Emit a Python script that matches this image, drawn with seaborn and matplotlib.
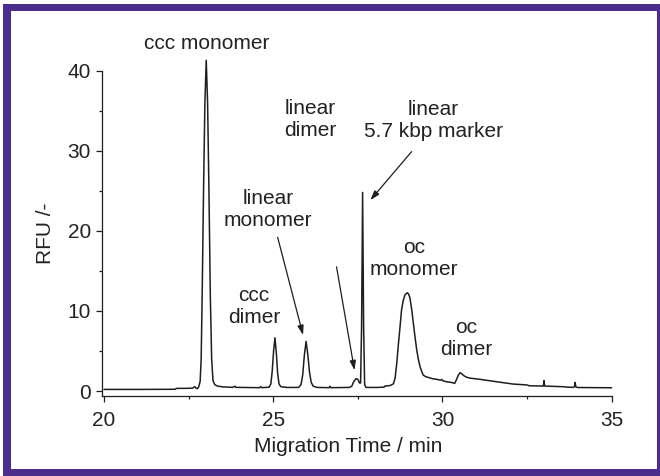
import matplotlib
matplotlib.use("Agg")
import matplotlib.pyplot as plt
from matplotlib.patches import Rectangle
from matplotlib.ticker import MultipleLocator
import seaborn as sns
import pandas as pd

# Electropherogram trace: migration time (min) and fluorescence signal (RFU)
time_min = [
    20.00, 21.00, 22.10, 22.14, 22.50, 22.62, 22.68, 22.72, 22.76, 22.80,
    22.84, 22.87, 22.90, 22.94, 22.98, 23.02, 23.06, 23.10, 23.14, 23.18,
    23.22, 23.27, 23.35, 23.50, 23.80, 23.87, 23.89, 24.20, 24.60, 24.63,
    24.66, 24.88, 24.93, 24.97, 25.01, 25.05, 25.09, 25.13, 25.17, 25.22,
    25.40, 25.75, 25.82, 25.87, 25.92, 25.97, 26.02, 26.07, 26.12, 26.18,
    26.30, 26.65, 26.68, 26.70, 27.25, 27.32, 27.38, 27.45, 27.50, 27.55,
    27.58, 27.61, 27.64, 27.67, 27.70, 27.74, 28.10, 28.28, 28.30, 28.45,
    28.55, 28.60, 28.65, 28.70, 28.75, 28.79, 28.84, 28.89, 28.96, 29.00,
    29.04, 29.09, 29.14, 29.19, 29.24, 29.29, 29.34, 29.39, 29.43, 29.50,
    29.58, 29.70, 29.83, 29.95, 29.98, 30.01, 30.12, 30.25, 30.32, 30.36,
    30.40, 30.47, 30.52, 30.57, 30.62, 30.70, 30.80, 31.11, 31.60, 32.09,
    32.50, 32.56, 32.98, 33.00, 33.02, 33.57, 33.70, 33.86, 33.90, 33.92,
    33.94, 34.00, 34.95, 35.00,
]
rfu = [
    0.20, 0.20, 0.22, 0.33, 0.34, 0.36, 0.55, 0.35, 0.30, 0.55,
    1.20, 4.00, 12.0, 25.0, 36.0, 41.3, 36.0, 25.0, 12.0, 4.00,
    1.30, 0.80, 0.62, 0.52, 0.46, 0.60, 0.46, 0.44, 0.42, 0.55,
    0.42, 0.48, 0.90, 2.50, 5.00, 6.65, 4.80, 2.20, 0.90, 0.55,
    0.45, 0.45, 0.80, 2.00, 4.50, 6.20, 4.60, 2.40, 1.10, 0.60,
    0.45, 0.42, 0.60, 0.42, 0.45, 0.60, 1.20, 1.55, 1.45, 1.00,
    1.00, 8.00, 24.8, 8.00, 0.80, 0.45, 0.45, 0.50, 0.62, 0.68,
    0.90, 1.60, 3.50, 5.95, 8.20, 10.1, 11.3, 12.0, 12.27, 12.1,
    11.6, 10.2, 8.45, 6.70, 5.10, 3.90, 3.00, 2.40, 2.00, 1.80,
    1.70, 1.55, 1.46, 1.35, 1.45, 1.28, 1.16, 1.08, 1.02, 0.95,
    1.30, 2.00, 2.29, 2.15, 1.95, 1.75, 1.62, 1.46, 1.16, 0.87,
    0.76, 0.66, 0.62, 1.30, 0.62, 0.54, 0.48, 0.46, 0.55, 1.08,
    0.50, 0.44, 0.41, 0.41,
]

# Peak labels: text, anchor time, anchor RFU
label_texts = ["ccc monomer", "linear\ndimer", "linear\n5.7 kbp marker",
               "linear\nmonomer", "ccc\ndimer", "oc\nmonomer", "oc\ndimer"]
label_t = [23.02, 26.08, 29.72, 24.845, 24.43, 29.16, 30.71]
label_v = [43.41, 33.9, 33.72, 22.68, 10.6, 16.55, 6.56]

# Arrows: (start time, start RFU) -> (end time, end RFU)
arrow_start_t = [25.13, 26.87, 29.09]
arrow_start_v = [19.19, 15.5, 29.9]
arrow_end_t = [25.88, 27.40, 27.87]
arrow_end_v = [7.0, 2.6, 23.85]

x_ticks = [20, 25, 30, 35]
y_ticks = [0, 10, 20, 30, 40]

sns.set_style("ticks")
plt.rcParams["font.family"] = ["Liberation Sans", "DejaVu Sans"]
plt.rcParams["font.size"] = 15

INK = "#1e1e1e"
PURPLE = "#4b2d8c"

fig = plt.figure(figsize=(6.6, 4.76), dpi=100)
fig.patch.set_facecolor("white")
ax = fig.add_axes([102 / 660, 80 / 476, 509.7 / 660, 325.3 / 476])

df = pd.DataFrame({"t": time_min, "rfu": rfu})
sns.lineplot(data=df, x="t", y="rfu", ax=ax, color=INK, lw=1.1,
             sort=False, estimator=None)
ax.lines[0].set_clip_on(False)

ax.set_xlim(19.94, 35)
ax.set_ylim(-0.62, 40)
ax.set_xticks(x_ticks)
ax.set_yticks(y_ticks)
ax.xaxis.set_minor_locator(MultipleLocator(2.5))
ax.yaxis.set_minor_locator(MultipleLocator(5))

for side in ("top", "right"):
    ax.spines[side].set_visible(False)
for side in ("left", "bottom"):
    ax.spines[side].set_color(INK)
    ax.spines[side].set_linewidth(0.9)

ax.tick_params(axis="both", which="major", direction="out", length=4.5,
               width=0.9, color=INK, labelcolor="#222222", labelsize=15)
ax.tick_params(axis="y", which="major", pad=3.5)
ax.tick_params(axis="x", which="major", pad=6)
ax.tick_params(axis="both", which="minor", direction="out", length=2.5,
               width=0.9, color=INK)

ax.set_xlabel("Migration Time / min", fontsize=15, color="#222222")
ax.set_ylabel("RFU /-", fontsize=15, color="#222222")
ax.xaxis.set_label_coords(0.4836, -0.126)
ax.yaxis.set_label_coords(-0.093, 0.5)

for txt, t, v in zip(label_texts, label_t, label_v):
    ax.text(t, v, txt, ha="center", va="center", fontsize=15,
            color="#222222", linespacing=1.2, clip_on=False)

for t0, v0, t1, v1 in zip(arrow_start_t, arrow_start_v, arrow_end_t, arrow_end_v):
    ax.annotate("", xy=(t1, v1), xytext=(t0, v0),
                arrowprops=dict(arrowstyle="-|>,head_length=0.4,head_width=0.13",
                                mutation_scale=14, color=INK, lw=0.9,
                                shrinkA=0, shrinkB=0))

# Purple frame around the figure
W, H = 660.0, 476.0
frame = [(3, 0, 8, 476 - 4), (3, 476 - 11, 657 - 3, 7),
         (657, 0, 3, 476 - 4), (3, 0, 657, 7)]
for x0, y0, w, h in frame:
    fig.patches.append(Rectangle((x0 / W, y0 / H), w / W, h / H,
                                 transform=fig.transFigure, facecolor=PURPLE,
                                 edgecolor="none", zorder=10))

fig.savefig("out.png", dpi=100, facecolor="white")
